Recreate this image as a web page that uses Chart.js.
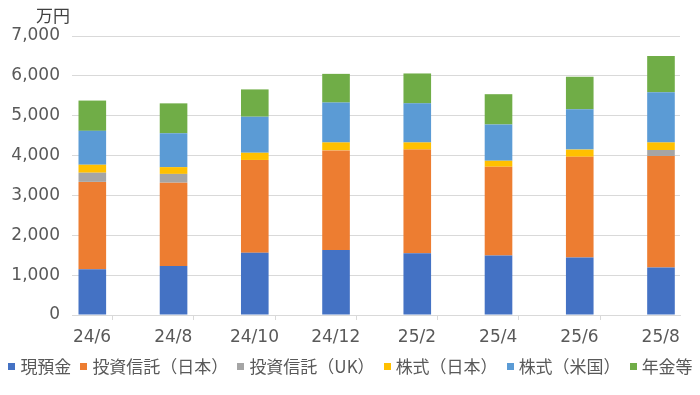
<!DOCTYPE html>
<html lang="ja">
<head>
<meta charset="utf-8">
<script src="https://cdn.jsdelivr.net/npm/chart.js@4.4.1/dist/chart.umd.min.js"></script>
<style>
    body { margin: 0; background: #fff; }
    #wrap { width: 700px; height: 395px; position: relative; }
    #legend {
        position: absolute; left: 0; top: 356px; width: 700px;
        display: flex; justify-content: center; flex-wrap: nowrap; white-space: nowrap;
        font-family: 'Noto Sans CJK JP', 'Noto Sans', sans-serif; font-size: 17px; line-height: 20px;
        color: #595959;
    }
    .item { display: inline-flex; align-items: center; margin: 0 4px 0 5px; }
    .box { width: 7px; height: 7px; margin-right: 5px; }
</style>
</head>
<body>
<div id="wrap"><canvas id="assetChart"></canvas><div id="legend"></div></div>
<script>
const months = ['24/6', '24/8', '24/10', '24/12', '25/2', '25/4', '25/6', '25/8']
const cash = [1150, 1230, 1560, 1630, 1550, 1490, 1440, 1190]
const fundJapan = [2190, 2090, 2330, 2500, 2600, 2230, 2530, 2800]
const fundUK = [230, 220, 0, 0, 0, 0, 0, 150]
const stockJapan = [200, 170, 180, 200, 180, 150, 180, 190]
const stockUS = [850, 850, 905, 1000, 980, 910, 1010, 1260]
const pension = [760, 750, 685, 720, 750, 760, 820, 910]
const yTicks = [0, 1000, 2000, 3000, 4000, 5000, 6000, 7000]

const cjkFont = "'Noto Sans CJK JP', 'Noto Sans', sans-serif"
const numFont = "'DejaVu Sans', 'Noto Sans', sans-serif"
const textColor = '#595959'
const gridColor = '#d9d9d9'

const toPoints = (values) => values.map((v, i) => ({ x: i, y: v }))

// 単位ラベル（万円）を軸の左上に描く
const unitLabel = {
    id: 'unitLabel',
    afterDraw(chart) {
        const ctx = chart.ctx
        ctx.save()
        ctx.font = `17px ${cjkFont}`
        ctx.fillStyle = '#404040'
        ctx.textAlign = 'left'
        ctx.textBaseline = 'middle'
        ctx.fillText('万円', chart.chartArea.left - 36, chart.chartArea.top - 20)
        ctx.restore()
    }
}

const series = [
    { label: '現預金', data: cash, color: '#4472C4' },
    { label: '投資信託（日本）', data: fundJapan, color: '#ED7D31' },
    { label: '投資信託（UK）', data: fundUK, color: '#A5A5A5' },
    { label: '株式（日本）', data: stockJapan, color: '#FFC000' },
    { label: '株式（米国）', data: stockUS, color: '#5B9BD5' },
    { label: '年金等', data: pension, color: '#70AD47' }
]

const chart = new Chart(document.getElementById('assetChart'), {
    type: 'bar',
    data: {
        datasets: series.map(s => ({
            label: s.label,
            data: toPoints(s.data),
            backgroundColor: s.color,
            borderWidth: 0,
            categoryPercentage: 1,
            barPercentage: 0.34
        }))
    },
    options: {
        responsive: true,
        maintainAspectRatio: false,
        animation: false,
        layout: { padding: { left: 0, right: 0, top: 36, bottom: 42 } },
        plugins: {
            legend: { display: false },
            tooltip: { enabled: false }
        },
        scales: {
            x: {
                type: 'linear',
                stacked: true,
                offset: false,
                min: -0.25,
                max: 7.234,
                afterBuildTicks: (scale) => {
                    scale.ticks = months.map((_, i) => ({ value: i - 0.25 }))
                },
                afterFit: (scale) => { scale.height = 38 },
                grid: {
                    drawOnChartArea: false,
                    drawTicks: true,
                    tickLength: 5,
                    color: gridColor
                },
                border: { color: gridColor },
                ticks: {
                    autoSkip: false,
                    maxRotation: 0,
                    labelOffset: 20,
                    padding: 7,
                    color: textColor,
                    font: { family: numFont, size: 17 },
                    callback: (value, index) => months[index]
                }
            },
            y: {
                stacked: true,
                min: 0,
                max: 7000,
                afterBuildTicks: (scale) => {
                    scale.ticks = yTicks.map(v => ({ value: v }))
                },
                afterFit: (scale) => { scale.width = 72 },
                grid: { color: gridColor, drawTicks: false },
                border: { display: false },
                ticks: {
                    padding: 12,
                    color: textColor,
                    font: { family: numFont, size: 17 },
                    callback: (value) => value.toLocaleString('en-US')
                }
            },
            // 右側の余白用（表示なし）
            yRight: {
                position: 'right',
                display: true,
                afterFit: (scale) => { scale.width = 20 },
                grid: { display: false },
                border: { display: false },
                ticks: { display: false }
            }
        }
    },
    plugins: [unitLabel]
})

// 凡例はHTMLで作る（データセットから生成）
const legend = document.getElementById('legend')
chart.data.datasets.forEach(ds => {
    const item = document.createElement('span')
    item.className = 'item'
    item.innerHTML = `<span class="box" style="background:${ds.backgroundColor}"></span>${ds.label}`
    legend.appendChild(item)
})
</script>
</body>
</html>
